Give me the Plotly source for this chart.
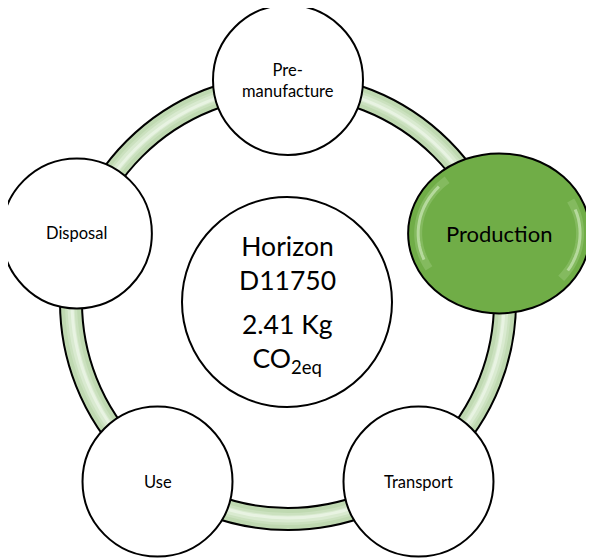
import math
import plotly.graph_objects as go

# ---- data ----
stages = ["Pre-<br>manufacture", "Production", "Transport", "Use", "Disposal"]
highlight_stage = "Production"
product_name = ["Horizon", "D11750"]
footprint_value = 2.41
footprint_unit = "Kg"

# ---- geometry / style ----
W, H = 594, 559
PAD = 8  # default body margin of the html page
CX, CY = 288, 302
R_NODES = 222
R_RING_OUT, R_RING_IN = 228, 206
NODE_R = 75
HI_RX, HI_RY = 91, 80
CENTER_R = 105
FONT = "Lato, 'Open Sans', sans-serif"

shapes = []
annotations = []

def circle(cx, cy, rx, ry=None, fill="white", line="black", lw=2, opacity=1.0):
    ry = rx if ry is None else ry
    return dict(type="circle", xref="x", yref="y",
                x0=cx - rx, x1=cx + rx, y0=cy - ry, y1=cy + ry,
                fillcolor=fill, line=dict(color=line, width=lw), opacity=opacity,
                layer="above")

def ring_line(r, color, width, opacity=1.0):
    return dict(type="circle", xref="x", yref="y",
                x0=CX - r, x1=CX + r, y0=CY - r, y1=CY + r,
                fillcolor="rgba(0,0,0,0)", line=dict(color=color, width=width),
                opacity=opacity, layer="above")

def arc(x, y, rx, ry, t0, t1, color, width, opacity):
    pts = [(x + rx * math.cos(math.radians(t)), y - ry * math.sin(math.radians(t)))
           for t in range(t0, t1 + 1, 4)]
    path = "M " + " L ".join(f"{px:.1f},{py:.1f}" for px, py in pts)
    return dict(type="path", xref="x", yref="y", path=path,
                line=dict(color=color, width=width), opacity=opacity, layer="above")

# ring
shapes.append(circle(CX, CY, R_RING_OUT, fill="#bfd9b1", lw=2))
shapes.append(circle(CX, CY, R_RING_IN, fill="white", lw=2))
rmid = (R_RING_OUT + R_RING_IN) / 2
shapes.append(ring_line(rmid, "#cbe1bf", 12))
shapes.append(ring_line(rmid, "#d9eAd0", 7))
shapes.append(ring_line(rmid - 1, "#e8f3e2", 3))

# nodes
for i, name in enumerate(stages):
    ang = math.radians(90 - 72 * i)
    x = CX + R_NODES * math.cos(ang)
    y = CY - R_NODES * math.sin(ang)
    plain = name.replace("<br>", "")
    if plain == highlight_stage:
        shapes.append(circle(x, y, HI_RX, HI_RY, fill="#70ad47", lw=2))
        for (t0, t1) in [(130, 210), (-40, 28)]:
            shapes.append(arc(x, y, HI_RX - 10, HI_RY - 10, t0, t1, "#a9d48c", 8, 0.35))
            shapes.append(arc(x, y, HI_RX - 10, HI_RY - 10, t0 + 8, t1 - 8, "#d6efc5", 3, 0.6))
        annotations.append(dict(x=x, y=y, text=plain, showarrow=False,
                                font=dict(family=FONT, size=22, color="black"),
                                xref="x", yref="y"))
    else:
        shapes.append(circle(x, y, NODE_R, fill="white", lw=2))
        annotations.append(dict(x=x, y=y, text=name, showarrow=False,
                                font=dict(family=FONT, size=16.5, color="black"),
                                xref="x", yref="y"))

# center
shapes.append(circle(CX - 1, CY, CENTER_R, fill="white", lw=2))
annotations.append(dict(x=CX - 1, y=CY - 39, text="<br>".join(product_name),
                        showarrow=False, font=dict(family=FONT, size=26.5, color="black"),
                        xref="x", yref="y"))
annotations.append(dict(x=CX - 1, y=CY + 41,
                        text=f"{footprint_value:.2f} {footprint_unit}<br>CO<sub>2eq</sub>",
                        showarrow=False, font=dict(family=FONT, size=26.5, color="black"),
                        xref="x", yref="y"))

fig = go.Figure()
fig.update_layout(
    width=W - PAD, height=H - PAD, margin=dict(l=0, r=0, t=0, b=0),
    paper_bgcolor="white", plot_bgcolor="white",
    xaxis=dict(range=[PAD, W], visible=False, fixedrange=True),
    yaxis=dict(range=[H, PAD], visible=False, fixedrange=True),
    shapes=shapes, annotations=annotations, showlegend=False,
)
fig.write_html("out.html")
